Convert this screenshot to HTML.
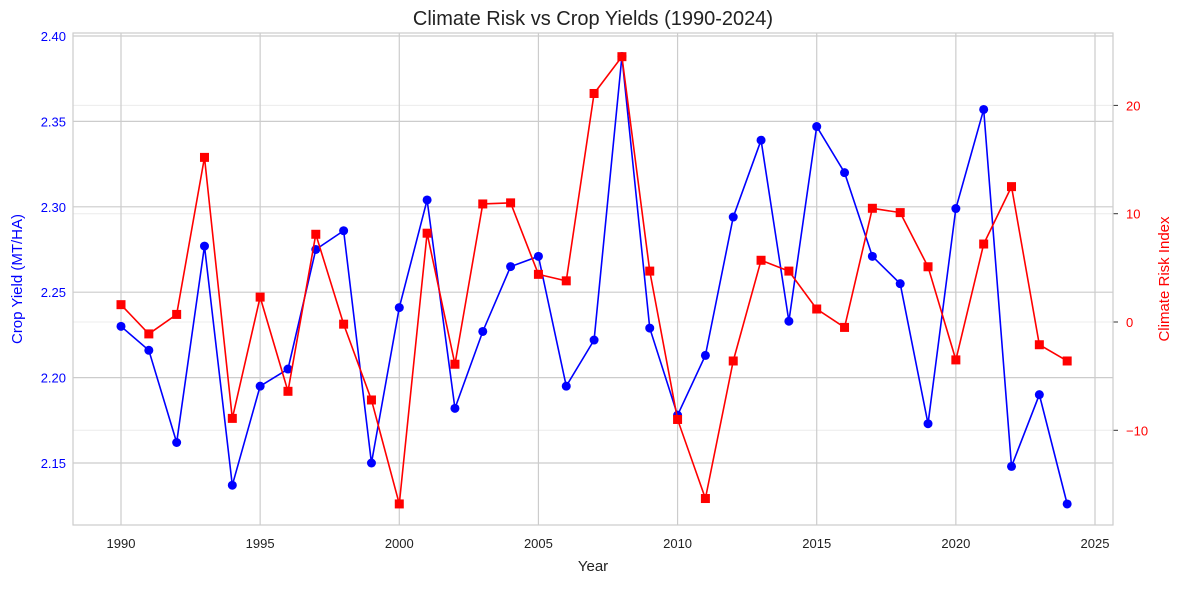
<!DOCTYPE html>
<html><head><meta charset="utf-8"><style>
body{margin:0;background:#fff;font-family:"Liberation Sans",sans-serif;}
svg text{font-family:"Liberation Sans",sans-serif;}
</style></head><body>
<svg id="chart" width="1184" height="584" xmlns="http://www.w3.org/2000/svg"></svg>
<script>
const years=[1990,1991,1992,1993,1994,1995,1996,1997,1998,1999,2000,2001,2002,2003,2004,2005,2006,2007,2008,2009,2010,2011,2012,2013,2014,2015,2016,2017,2018,2019,2020,2021,2022,2023,2024];
const yieldVals=[2.230,2.216,2.162,2.277,2.137,2.195,2.205,2.275,2.286,2.150,2.241,2.304,2.182,2.227,2.265,2.271,2.195,2.222,2.388,2.229,2.178,2.213,2.294,2.339,2.233,2.347,2.320,2.271,2.255,2.173,2.299,2.357,2.148,2.190,2.126];
const riskVals=[1.6,-1.1,0.7,15.2,-8.9,2.3,-6.4,8.1,-0.2,-7.2,-16.8,8.2,-3.9,10.9,11.0,4.4,3.8,21.1,24.5,4.7,-9.0,-16.3,-3.6,5.7,4.7,1.2,-0.5,10.5,10.1,5.1,-3.5,7.2,12.5,-2.1,-3.6];
const xTicks=[1990,1995,2000,2005,2010,2015,2020,2025];
const yTicks=[2.15,2.20,2.25,2.30,2.35,2.40];
const rTicks=[-10,0,10,20];

const L=73,R=1113,T=33,B=525;
const X=v=>121+(v-1990)*(1095-121)/35;
const Y=v=>36+(2.40-v)*(463-36)/0.25;
const RY=v=>322-v*10.83;
const svg=document.getElementById('chart');
const NS='http://www.w3.org/2000/svg';
function mk(tag,attrs,txt){const e=document.createElementNS(NS,tag);for(const k in attrs)e.setAttribute(k,attrs[k]);if(txt!==undefined)e.textContent=txt;svg.appendChild(e);return e;}

// right-axis faint grid
rTicks.forEach(t=>{const g=mk('line',{x1:L,x2:R,y1:RY(t),y2:RY(t),stroke:'#ececec','stroke-width':1});

});
// main grid
xTicks.forEach(t=>{const g=mk('line',{x1:X(t),x2:X(t),y1:T,y2:B,stroke:'#cccccc','stroke-width':1.2});


const l=mk('text',{x:X(t),y:B+23,'text-anchor':'middle','font-size':13,fill:'#222'},t);

});
yTicks.forEach(t=>{const g=mk('line',{x1:L,x2:R,y1:Y(t),y2:Y(t),stroke:'#cccccc','stroke-width':1.2});


const l=mk('text',{x:L-7,y:Y(t)+5,'text-anchor':'end','font-size':13,fill:'blue'},t.toFixed(2));

});
rTicks.forEach(t=>{const tk=mk('line',{x1:R,x2:R+5,y1:RY(t),y2:RY(t),stroke:'#333'});


const l=mk('text',{x:R+13,y:RY(t)+5,'font-size':13,fill:'red'},t<0?'\u2212'+Math.abs(t):t);

});
const fr=mk('rect',{x:L,y:T,width:R-L,height:B-T,fill:'none',stroke:'#cccccc','stroke-width':1.2});



// yield series
const yl=mk('polyline',{points:years.map((y,i)=>X(y)+','+Y(yieldVals[i])).join(' '),fill:'none',stroke:'blue','stroke-width':1.6});


years.forEach((y,i)=>{const c=mk('circle',{cx:X(y),cy:Y(yieldVals[i]),r:4.5,fill:'blue'});

});
// risk series
const rl=mk('polyline',{points:years.map((y,i)=>X(y)+','+RY(riskVals[i])).join(' '),fill:'none',stroke:'red','stroke-width':1.6});


years.forEach((y,i)=>{const s=mk('rect',{x:X(y)-4.5,y:RY(riskVals[i])-4.5,width:9,height:9,fill:'red'});

});

const t1=mk('text',{x:593,y:25,'text-anchor':'middle','font-size':20,fill:'#222'},'Climate Risk vs Crop Yields (1990-2024)');


const t2=mk('text',{x:593,y:571,'text-anchor':'middle','font-size':15,fill:'#222'},'Year');


const t3=mk('text',{x:22,y:279,'text-anchor':'middle','font-size':15,fill:'blue',transform:'rotate(-90 22 279)'},'Crop Yield (MT/HA)');


const t4=mk('text',{x:1169,y:279,'text-anchor':'middle','font-size':15,fill:'red',transform:'rotate(-90 1169 279)'},'Climate Risk Index');


</script>
</body></html>
